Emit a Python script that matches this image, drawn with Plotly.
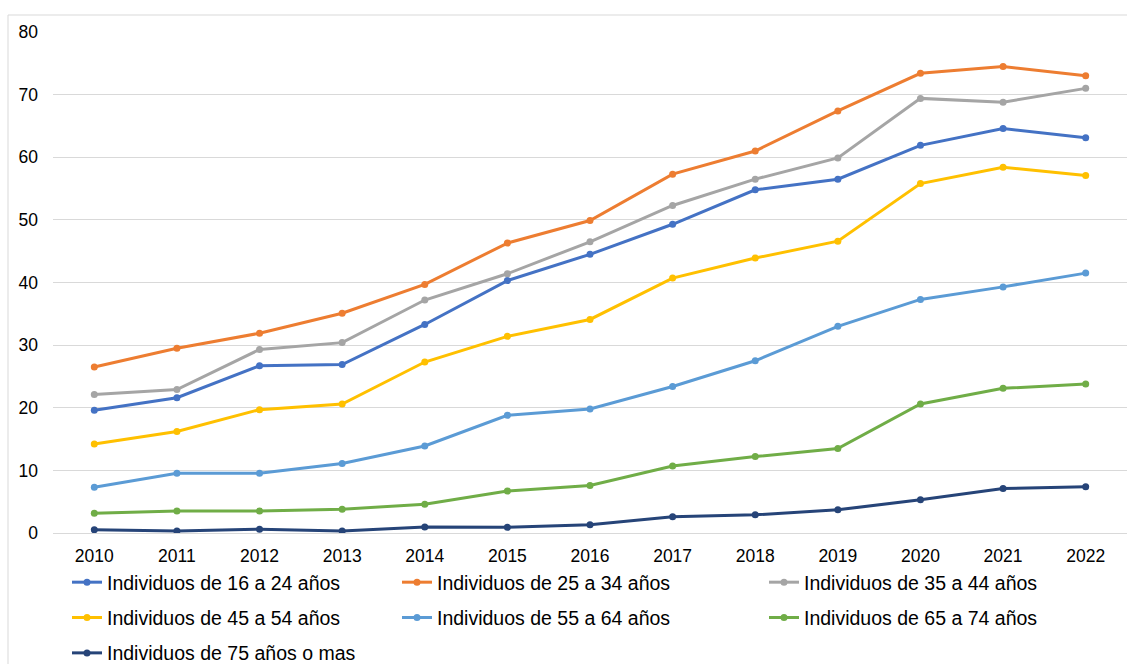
import plotly.graph_objects as go

years = ["2010", "2011", "2012", "2013", "2014", "2015", "2016",
         "2017", "2018", "2019", "2020", "2021", "2022"]

edad_16_24 = [19.6, 21.6, 26.7, 26.9, 33.3, 40.3, 44.5, 49.3, 54.8, 56.5, 61.9, 64.6, 63.1]
edad_25_34 = [26.5, 29.5, 31.9, 35.1, 39.7, 46.3, 49.9, 57.3, 61.0, 67.4, 73.4, 74.5, 73.0]
edad_35_44 = [22.1, 22.9, 29.3, 30.4, 37.2, 41.4, 46.5, 52.3, 56.5, 59.9, 69.4, 68.8, 71.0]
edad_45_54 = [14.2, 16.2, 19.7, 20.6, 27.3, 31.4, 34.1, 40.7, 43.9, 46.6, 55.8, 58.4, 57.1]
edad_55_64 = [7.3, 9.55, 9.55, 11.1, 13.9, 18.8, 19.8, 23.4, 27.5, 33.0, 37.3, 39.3, 41.5]
edad_65_74 = [3.15, 3.5, 3.5, 3.8, 4.6, 6.7, 7.6, 10.7, 12.2, 13.5, 20.6, 23.1, 23.8]
edad_75_mas = [0.5, 0.3, 0.6, 0.3, 0.95, 0.9, 1.3, 2.6, 2.9, 3.7, 5.3, 7.1, 7.4]

y_ticks = [0, 10, 20, 30, 40, 50, 60, 70, 80]

FONT = "Liberation Sans, Arial, sans-serif"

# (name, values, colour, legend column)
series = [
    ("Individuos de 16 a 24 años", edad_16_24, "#4472C4", "legend"),
    ("Individuos de 25 a 34 años", edad_25_34, "#ED7D31", "legend2"),
    ("Individuos de 35 a 44 años", edad_35_44, "#A5A5A5", "legend3"),
    ("Individuos de 45 a 54 años", edad_45_54, "#FFC000", "legend"),
    ("Individuos de 55 a 64 años", edad_55_64, "#5B9BD5", "legend2"),
    ("Individuos de 65 a 74 años", edad_65_74, "#70AD47", "legend3"),
    ("Individuos de 75 años o mas", edad_75_mas, "#264478", "legend"),
]

fig = go.Figure()
for i, (name, vals, color, leg) in enumerate(series):
    fig.add_trace(go.Scatter(
        x=years, y=vals, name=name, mode="lines+markers",
        line=dict(color=color, width=3),
        marker=dict(color=color, size=7),
        legend=leg, legendgroup=f"g{i}",
    ))

L, R, T, B = 53, 0, 32, 131
W, H = 1127, 664
pw = W - L - R
ph = H - T - B


def px_x(px):
    return (px - L) / pw


def px_y(py):
    return (H - B - py) / ph


legend_common = dict(
    orientation="v", bgcolor="rgba(0,0,0,0)", borderwidth=0,
    font=dict(family=FONT, size=19.5, color="#000000"),
    tracegroupgap=7, xanchor="left", yanchor="top",
    itemwidth=30,
)

fig.update_layout(
    width=W, height=H,
    margin=dict(l=L, r=R, t=T, b=B, autoexpand=False),
    paper_bgcolor="white", plot_bgcolor="white",
    font=dict(family=FONT, size=17.5, color="#000000"),
    showlegend=True,
    legend=dict(x=px_x(67), y=px_y(563), **legend_common),
    legend2=dict(x=px_x(397), y=px_y(563), **legend_common),
    legend3=dict(x=px_x(764), y=px_y(563), **legend_common),
    xaxis=dict(
        type="category", range=[-0.5, 12.5],
        showgrid=False, zeroline=False, showline=False,
        ticks="", ticklabelstandoff=10,
        tickfont=dict(family=FONT, size=17.5, color="#000000"),
    ),
    yaxis=dict(
        range=[0, 80], tickvals=y_ticks,
        showgrid=True, gridcolor="#D9D9D9", gridwidth=1,
        zeroline=True, zerolinecolor="#D9D9D9", zerolinewidth=1,
        showline=False, ticks="", ticklabelstandoff=14,
        tickfont=dict(family=FONT, size=17.5, color="#000000"),
    ),
    shapes=[dict(
        type="rect", xref="paper", yref="paper",
        x0=px_x(8), x1=px_x(1140), y0=px_y(680), y1=px_y(15),
        line=dict(color="#D9D9D9", width=1), layer="below",
    )],
)

fig.write_html("out.html")
